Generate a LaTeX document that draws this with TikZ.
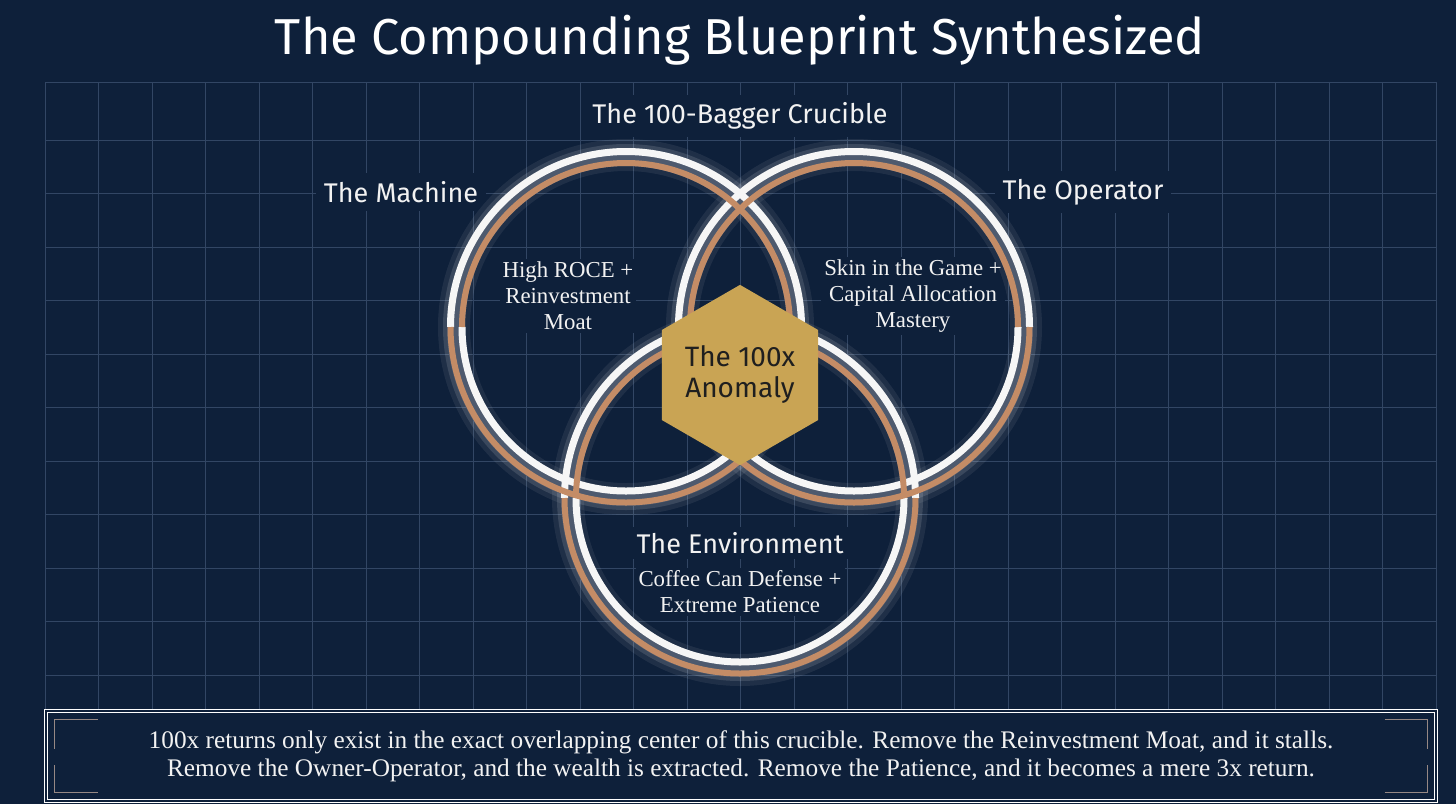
\documentclass[tikz,border=0pt]{standalone}
\usepackage{fontspec}
\setmainfont{Liberation Serif}
\newfontfamily\labelsans{Fira Sans}
\usetikzlibrary{shapes.geometric, positioning, calc}

\definecolor{bgnavy}{RGB}{14,32,58}
\definecolor{gridblue}{RGB}{50,70,100}
\definecolor{ringwhite}{RGB}{246,246,246}
\definecolor{ringslate}{RGB}{78,90,110}
\definecolor{copper}{RGB}{196,140,102}
\definecolor{gold}{RGB}{201,164,84}
\definecolor{bracketgray}{RGB}{150,136,132}
\definecolor{textwhite}{RGB}{242,242,242}

\begin{document}
\begin{tikzpicture}[
    x=1pt, y=-1pt,
    gridln/.style={draw=gridblue, line width=1pt},
    headline/.style={font=\labelsans\fontsize{50.5}{56}\selectfont, text=white},
    ringlabel/.style={font=\labelsans\fontsize{27}{32}\selectfont, text=textwhite, fill=bgnavy, inner sep=8pt},
    trait/.style={font=\fontsize{22.8}{26}\selectfont, text=textwhite, align=center, fill=bgnavy, inner sep=3pt},
    glowband/.style={draw=white, opacity=0.07, line width=32pt},
    glowcore/.style={draw=white, opacity=0.12, line width=22pt},
    slateband/.style={draw=ringslate, line width=18pt},
    whiteband/.style={draw=ringwhite, line width=7pt},
    copperband/.style={draw=copper, line width=6pt},
    anomaly/.style={regular polygon, regular polygon sides=6, shape border rotate=30,
        minimum size=176pt, inner sep=0pt, fill=gold, text=black!88, align=center,
        font=\labelsans\fontsize{28}{31}\selectfont},
    summarybox/.style={draw=white!90, line width=1pt, double=bgnavy, double distance=2pt,
        minimum width=1390pt, minimum height=90pt, inner sep=0pt, text=textwhite,
        align=center, font=\fontsize{25.3}{28}\selectfont},
    bracket/.style={draw=bracketgray, line width=1.5pt},
]

% canvas
\fill[bgnavy] (0,0) rectangle (1456,804);
\useasboundingbox (0,0) rectangle (1456,804);

% GRID
\foreach \k in {0,...,26}
    \draw[gridln] (45+53.5*\k, 82) -- (45+53.5*\k, 710);
\draw[gridln] (45, 82) -- (1436, 82);
\foreach \k in {0,...,10}
    \draw[gridln] (45, 140+53.5*\k) -- (1436, 140+53.5*\k);

% LABELS (set before the rings so the rings sit on top)
\node[headline] (title) at (740, 40) {The Compounding Blueprint Synthesized};
\node[ringlabel] (crucible) at (740, 116) {The 100-Bagger Crucible};
\node[ringlabel] (machine) at (401, 192) {The Machine};
\node[ringlabel] (operator) at (1083, 192) {The Operator};
\node[ringlabel, inner sep=5pt] (environment) at (740, 543) {The Environment};

\node[trait] (moat) at (568, 296) {High ROCE +\\Reinvestment\\Moat};
\node[trait] (skin) at (913, 296) {Skin in the Game +\\Capital Allocation\\Mastery};
\node[trait] (patience) at (740, 592) {Coffee Can Defense +\\Extreme Patience};

% RING CENTRES
\coordinate (machC) at (626, 327);
\coordinate (operC) at (854, 327);
\coordinate (envC) at (740, 498);

% RINGS: white outside on the upper half, copper outside on the lower half
\foreach \c in {machC, operC, envC} {
    \draw[glowband] (\c) circle[radius=172pt];
    \draw[glowcore] (\c) circle[radius=172pt];
}
\foreach \c in {machC, operC, envC}
    \draw[slateband] (\c) circle[radius=170pt];
\foreach \c in {machC, operC, envC} {
    \draw[whiteband] (\c) ++(0:175.5) arc[start angle=0, end angle=180, radius=175.5pt];
    \draw[whiteband] (\c) ++(180:164) arc[start angle=180, end angle=360, radius=164pt];
}
\foreach \c in {machC, operC, envC} {
    \draw[copperband] (\c) ++(0:164) arc[start angle=0, end angle=180, radius=164pt];
    \draw[copperband] (\c) ++(180:175.5) arc[start angle=180, end angle=360, radius=175.5pt];
}

% CENTRE
\node[anomaly] (core) at (740, 375) {The 100x\\Anomaly};

% SUMMARY
\node[summarybox] (summary) at (741, 756)
    {100x returns only exist in the exact overlapping center of this crucible. Remove the Reinvestment Moat, and it stalls.\\
     Remove the Owner-Operator, and the wealth is extracted. Remove the Patience, and it becomes a mere 3x return.};
\draw[bracket] ($(summary.north west)+(52,9)$) -- ++(-43,0) -- ++(0,29);
\draw[bracket] ($(summary.south west)+(52,-9)$) -- ++(-43,0) -- ++(0,-28);
\draw[bracket] ($(summary.north east)+(-52,9)$) -- ++(43,0) -- ++(0,29);
\draw[bracket] ($(summary.south east)+(-52,-9)$) -- ++(43,0) -- ++(0,-28);

\end{tikzpicture}
\end{document}
